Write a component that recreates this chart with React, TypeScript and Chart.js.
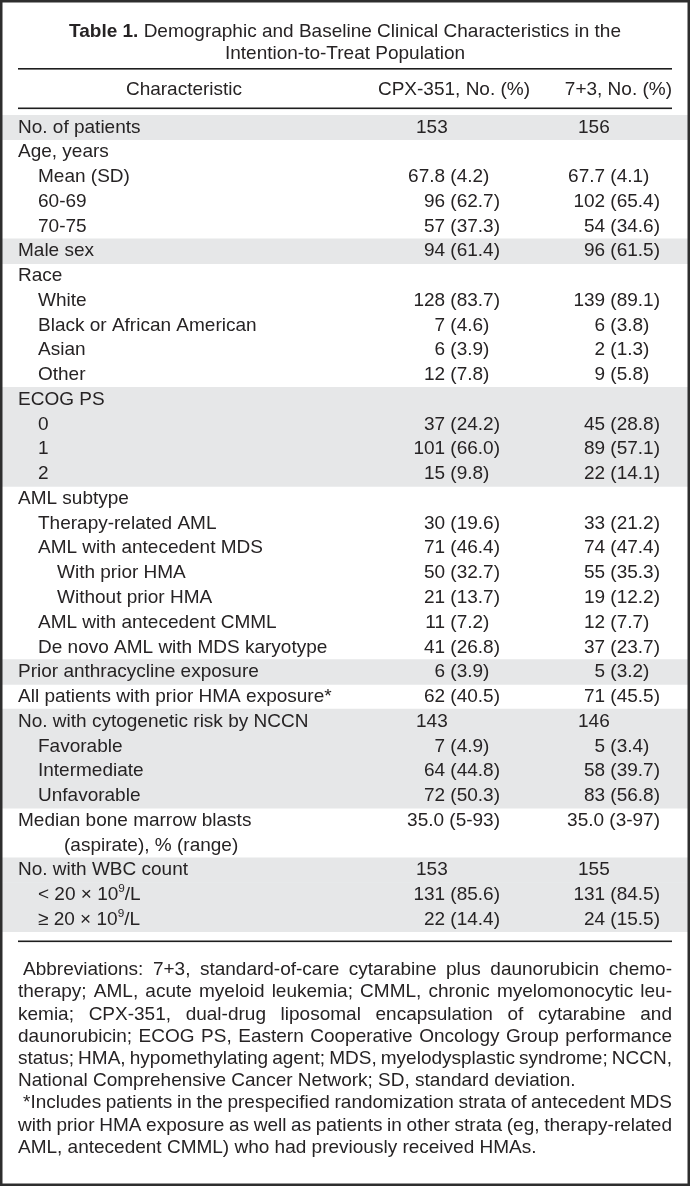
import React, { useEffect, useRef } from "react";
import { Chart, registerables } from "chart.js";

Chart.register(...registerables);

// ---------- DATA ----------
const TITLE_BOLD = "Table 1.";
const TITLE_LINE1 = " Demographic and Baseline Clinical Characteristics in the";
const TITLE_LINE2 = "Intention-to-Treat Population";
const HEADERS = ["Characteristic", "CPX-351, No. (%)", "7+3, No. (%)"];

const characteristics = [
  "No. of patients",
  "Age, years",
  "Mean (SD)",
  "60-69",
  "70-75",
  "Male sex",
  "Race",
  "White",
  "Black or African American",
  "Asian",
  "Other",
  "ECOG PS",
  "0",
  "1",
  "2",
  "AML subtype",
  "Therapy-related AML",
  "AML with antecedent MDS",
  "With prior HMA",
  "Without prior HMA",
  "AML with antecedent CMML",
  "De novo AML with MDS karyotype",
  "Prior anthracycline exposure",
  "All patients with prior HMA exposure*",
  "No. with cytogenetic risk by NCCN",
  "Favorable",
  "Intermediate",
  "Unfavorable",
  "Median bone marrow blasts",
  "(aspirate), % (range)",
  "No. with WBC count",
  "< 20 × 10^{9}/L",
  "≥ 20 × 10^{9}/L",
];

// indentation level of each row label (3 = wrapped continuation line)
const levels = [0, 0, 1, 1, 1, 0, 0, 1, 1, 1, 1, 0, 1, 1, 1, 0, 1, 1, 2, 2, 1, 1, 0, 0, 0, 1, 1, 1, 0, 3, 0, 1, 1];

// group index of each row (groups alternate shading)
const groups = [0, 1, 1, 1, 1, 2, 3, 3, 3, 3, 3, 4, 4, 4, 4, 5, 5, 5, 5, 5, 5, 5, 6, 7, 8, 8, 8, 8, 9, 9, 10, 10, 10];

const cpx351 = [
  "153", "", "67.8 (4.2)", "96 (62.7)", "57 (37.3)", "94 (61.4)", "",
  "128 (83.7)", "7 (4.6)", "6 (3.9)", "12 (7.8)", "",
  "37 (24.2)", "101 (66.0)", "15 (9.8)", "",
  "30 (19.6)", "71 (46.4)", "50 (32.7)", "21 (13.7)", "11 (7.2)", "41 (26.8)",
  "6 (3.9)", "62 (40.5)", "143", "7 (4.9)", "64 (44.8)", "72 (50.3)",
  "35.0 (5-93)", "", "153", "131 (85.6)", "22 (14.4)",
];

const sevenPlusThree = [
  "156", "", "67.7 (4.1)", "102 (65.4)", "54 (34.6)", "96 (61.5)", "",
  "139 (89.1)", "6 (3.8)", "2 (1.3)", "9 (5.8)", "",
  "45 (28.8)", "89 (57.1)", "22 (14.1)", "",
  "33 (21.2)", "74 (47.4)", "55 (35.3)", "19 (12.2)", "12 (7.7)", "37 (23.7)",
  "5 (3.2)", "71 (45.5)", "146", "5 (3.4)", "58 (39.7)", "83 (56.8)",
  "35.0 (3-97)", "", "155", "131 (84.5)", "24 (15.5)",
];

const footnoteParagraphs = [
  [
    "Abbreviations: 7+3, standard-of-care cytarabine plus daunorubicin chemo-",
    "therapy; AML, acute myeloid leukemia; CMML, chronic myelomonocytic leu-",
    "kemia; CPX-351, dual-drug liposomal encapsulation of cytarabine and",
    "daunorubicin; ECOG PS, Eastern Cooperative Oncology Group performance",
    "status; HMA, hypomethylating agent; MDS, myelodysplastic syndrome; NCCN,",
    "National Comprehensive Cancer Network; SD, standard deviation.",
  ],
  [
    "*Includes patients in the prespecified randomization strata of antecedent MDS",
    "with prior HMA exposure as well as patients in other strata (eg, therapy-related",
    "AML, antecedent CMML) who had previously received HMAs.",
  ],
];

// ---------- STYLE ----------
const W = 690;
const H = 1186;
const FAMILY = '"Liberation Sans", Arial, sans-serif';
const FS = 19;
const TEXT = "#262324";
const SHADE = "#e6e7e8";
const FRAME = "#2e2e2e";
const LEFT = 18;
const RIGHT = 672;
const INDENT = [18, 38, 57, 64];

function font(size: number, weight = "normal") {
  return `${weight} ${size}px ${FAMILY}`;
}

function drawRich(ctx: CanvasRenderingContext2D, text: string, x: number, y: number) {
  const parts = text.split(/(\^\{[^}]*\})/);
  let cx = x;
  for (const p of parts) {
    if (!p) continue;
    if (p.startsWith("^{")) {
      const t = p.slice(2, -1);
      ctx.font = font(FS * 0.62);
      ctx.fillText(t, cx, y - FS * 0.33);
      cx += ctx.measureText(t).width;
      ctx.font = font(FS);
    } else {
      ctx.fillText(p, cx, y);
      cx += ctx.measureText(p).width;
    }
  }
}

function drawValue(ctx: CanvasRenderingContext2D, v: string, leftX: number, rightX: number, y: number) {
  if (!v) return;
  ctx.font = font(FS);
  if (v.indexOf("(") < 0) {
    ctx.textAlign = "left";
    ctx.fillText(v, leftX, y);
    return;
  }
  // decimal alignment inside the parentheses
  const digitW = ctx.measureText("0").width;
  const shift = /\(\d\./.test(v) ? digitW : 0;
  ctx.textAlign = "right";
  ctx.fillText(v, rightX - shift, y);
  ctx.textAlign = "left";
}

function drawLine(ctx: CanvasRenderingContext2D, line: string, x: number, y: number, width: number, justify: boolean) {
  const words = line.split(" ");
  const spaceW = ctx.measureText(" ").width;
  const ws = words.map((w) => ctx.measureText(w).width);
  const total = ws.reduce((a, b) => a + b, 0);
  const n = words.length;
  let gap = spaceW;
  let scale = 1;
  if (justify && n > 1) {
    gap = (width - total) / (n - 1);
    if (gap < spaceW * 0.55) {
      gap = spaceW * 0.55;
      scale = width / (total + gap * (n - 1));
    }
  } else {
    const nat = total + spaceW * (n - 1);
    if (nat > width) scale = width / nat;
  }
  ctx.save();
  ctx.translate(x, y);
  ctx.scale(scale, 1);
  let cx = 0;
  words.forEach((w, i) => {
    ctx.fillText(w, cx, 0);
    cx += ws[i] + gap;
  });
  ctx.restore();
}

const tablePlugin = {
  id: "tablePlugin",
  beforeDraw(chart: any) {
    const ctx = chart.ctx as CanvasRenderingContext2D;
    ctx.save();
    ctx.fillStyle = "#ffffff";
    ctx.fillRect(0, 0, chart.width, chart.height);
    ctx.restore();
  },
  afterDatasetsDraw(chart: any) {
    const ctx = chart.ctx as CanvasRenderingContext2D;
    const area = chart.chartArea;
    const yScale = chart.scales.y;
    ctx.save();
    ctx.fillStyle = TEXT;
    ctx.textBaseline = "middle";

    // Title
    ctx.font = font(FS, "bold");
    const bw = ctx.measureText(TITLE_BOLD).width;
    ctx.font = font(FS);
    const rw = ctx.measureText(TITLE_LINE1).width;
    const tx = W / 2 - (bw + rw) / 2;
    ctx.textAlign = "left";
    ctx.font = font(FS, "bold");
    ctx.fillText(TITLE_BOLD, tx, 32);
    ctx.font = font(FS);
    ctx.fillText(TITLE_LINE1, tx + bw, 32);
    ctx.textAlign = "center";
    ctx.fillText(TITLE_LINE2, W / 2, 54);

    // Rules
    ctx.fillStyle = "#1e1e1e";
    ctx.fillRect(LEFT, 68, RIGHT - LEFT, 1.6);
    ctx.fillRect(LEFT, area.top - 7.5, RIGHT - LEFT, 1.6);
    ctx.fillRect(LEFT, area.bottom + 8.5, RIGHT - LEFT, 1.6);
    ctx.fillStyle = TEXT;

    // Headers
    ctx.font = font(FS);
    ctx.textAlign = "center";
    ctx.fillText(HEADERS[0], 184, 90);
    ctx.fillText(HEADERS[1], 454, 90);
    ctx.textAlign = "right";
    ctx.fillText(HEADERS[2], RIGHT, 90);

    // Cells
    ctx.textAlign = "left";
    characteristics.forEach((label, i) => {
      const y = yScale.getPixelForValue(i);
      ctx.font = font(FS);
      drawRich(ctx, label, INDENT[levels[i]], y);
      drawValue(ctx, cpx351[i], 416, 500, y);
      drawValue(ctx, sevenPlusThree[i], 578, 660, y);
    });

    // Footnotes
    ctx.font = font(FS);
    ctx.textAlign = "left";
    let fy = area.bottom + 38;
    const lh = 22.2;
    footnoteParagraphs.forEach((para) => {
      para.forEach((line, j) => {
        const isFirst = j === 0;
        const isLast = j === para.length - 1;
        const x0 = isFirst ? LEFT + 5 : LEFT;
        drawLine(ctx, line, x0, fy, RIGHT - x0, !isLast);
        fy += lh;
      });
    });

    // Frame
    ctx.fillStyle = FRAME;
    ctx.fillRect(0, 0, W, 2.5);
    ctx.fillRect(0, H - 2.5, W, 2.5);
    ctx.fillRect(0, 0, 2.5, H);
    ctx.fillRect(W - 2.5, 0, 2.5, H);
    ctx.restore();
  },
};

export default function App() {
  const ref = useRef<HTMLCanvasElement | null>(null);
  useEffect(() => {
    document.body.style.margin = "0";
    const canvas = ref.current;
    if (!canvas) return;
    const chart = new Chart(canvas, {
      type: "bar",
      data: {
        labels: characteristics,
        datasets: [
          {
            label: "shade",
            data: groups.map((g) => (g % 2 === 0 ? [0, 1] : null)) as any,
            backgroundColor: SHADE,
            borderWidth: 0,
            borderSkipped: false,
            barPercentage: 1,
            categoryPercentage: 1,
          },
        ],
      },
      options: {
        indexAxis: "y",
        animation: false,
        responsive: false,
        devicePixelRatio: 1,
        events: [],
        layout: { padding: { top: 115, bottom: H - 932, left: 0, right: 0 } },
        plugins: { legend: { display: false }, tooltip: { enabled: false }, title: { display: false } },
        scales: {
          x: { type: "linear", min: 0, max: 1, display: false },
          y: { type: "category", display: false, offset: true },
        },
      },
      plugins: [tablePlugin],
    });
    return () => chart.destroy();
  }, []);
  return <canvas ref={ref} width={W} height={H} style={{ display: "block", width: W, height: H }} />;
}
